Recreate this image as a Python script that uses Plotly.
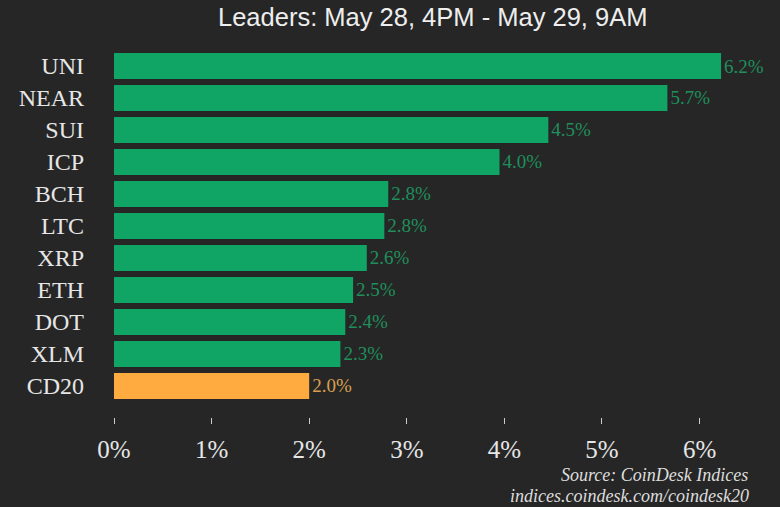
import plotly.graph_objects as go

categories = ["UNI","NEAR","SUI","ICP","BCH","LTC","XRP","ETH","DOT","XLM","CD20"]
values = [6.22,5.67,4.45,3.95,2.81,2.77,2.59,2.45,2.37,2.32,2.0]
labels = ["6.2%","5.7%","4.5%","4.0%","2.8%","2.8%","2.6%","2.5%","2.4%","2.3%","2.0%"]
GREEN = "#10a565"
ORANGE = "#ffab40"
colors = [GREEN]*10 + [ORANGE]
label_colors = ["#1f8f5c"]*10 + ["#d9a050"]
ticks = [0,1,2,3,4,5,6]
tick_text = ["0%","1%","2%","3%","4%","5%","6%"]
FONT = "Liberation Serif"

fig = go.Figure(go.Bar(
    x=values, y=categories, orientation="h",
    marker=dict(color=colors, line=dict(width=0)),
    text=labels, textposition="outside", cliponaxis=False,
    textfont=dict(family=FONT, size=19, color=label_colors),
    width=0.81,
))
fig.update_layout(
    width=780, height=507, margin=dict(l=114, r=0, t=49.5, b=90, pad=0),
    paper_bgcolor="#262626", plot_bgcolor="#262626", showlegend=False,
    xaxis=dict(range=[0,6.824], tickvals=ticks, ticktext=tick_text, showgrid=False, zeroline=False,
               ticks="outside", ticklen=6, tickcolor="#cccccc", showline=False, ticklabelstandoff=4,
               tickfont=dict(family=FONT, size=25, color="#e6e6e6")),
    yaxis=dict(range=[10.97,-0.5], showgrid=False, ticks="", showline=False, ticklabelstandoff=29,
               tickfont=dict(family=FONT, size=24, color="#e6e6e6")),
)
fig.add_annotation(text="Leaders: May 28, 4PM - May 29, 9AM", xref="paper", yref="paper", x=0, xshift=318, y=1.0, xanchor="center", yanchor="middle", yshift=33, showarrow=False,
    font=dict(family="Liberation Sans", size=25.5, color="#eeeeee"))
fig.add_annotation(text="<i>Source: CoinDesk Indices</i>", xref="paper", yref="paper", x=1, y=0, xanchor="right", yanchor="middle", xshift=-30, yshift=-58, showarrow=False,
    font=dict(family=FONT, size=18, color="#dddddd"))
fig.add_annotation(text="<i>indices.coindesk.com/coindesk20</i>", xref="paper", yref="paper", x=1, y=0, xanchor="right", yanchor="middle", xshift=-29, yshift=-79, showarrow=False,
    font=dict(family=FONT, size=18, color="#dddddd"))
fig.write_html("out.html", config=dict(displayModeBar=False), post_script="document.documentElement.style.background='#262626';document.body.style.margin='0';document.body.style.background='#262626';document.body.style.overflow='hidden';")
